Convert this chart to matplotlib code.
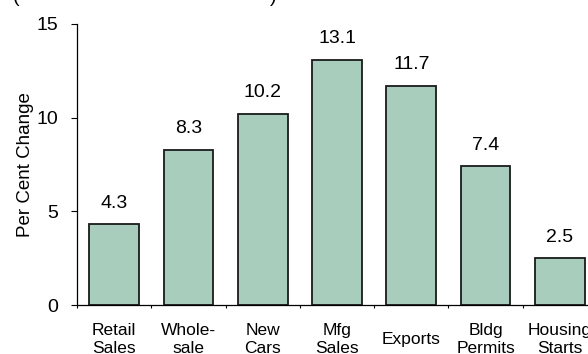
import matplotlib
matplotlib.use("Agg")
import matplotlib.pyplot as plt
import numpy as np

# Data
categories = ["Retail\nSales", "Whole-\nsale", "New\nCars", "Mfg\nSales",
              "Exports", "Bldg\nPermits", "Housing\nStarts"]
values = [4.3, 8.3, 10.2, 13.1, 11.7, 7.4, 2.5]
y_ticks = [0, 5, 10, 15]

plt.rcParams['font.family'] = ['Liberation Sans', 'DejaVu Sans']

W, H = 588, 354
fig = plt.figure(figsize=(W / 100, H / 100), dpi=100)

# axes extends a little past the right edge, as in the reference
left, right, top, bottom = 77, 597, 24, 305
ax = fig.add_axes([left / W, 1 - bottom / H, (right - left) / W, (bottom - top) / H])

x = np.arange(len(categories))
ax.bar(x, values, width=0.67, color="#A9CDBC", edgecolor="#1a1a1a", linewidth=1.3)

for xi, v in zip(x, values):
    ax.annotate(f"{v:.1f}", (xi, v), xytext=(0, 9), textcoords="offset points",
                ha="center", va="bottom", fontsize=14)

ax.set_xlim(-0.5, len(categories) - 0.5)
ax.set_ylim(0, 15)
ax.set_yticks(y_ticks)
ax.tick_params(axis="y", labelsize=14, length=4.5, width=0.8, pad=9)

ax.set_xticks(x, categories)
ax.set_xticks(np.arange(len(categories) + 1) - 0.5, minor=True)
ax.tick_params(axis="x", which="major", length=0, labelsize=12.5, pad=24.5)
ax.tick_params(axis="x", which="minor", length=2.5, width=0.8)
for lbl in ax.get_xticklabels():
    lbl.set_va("center")
    lbl.set_linespacing(1.25)

ax.set_ylabel("Per Cent Change", fontsize=13.5, labelpad=2)

for s in ["top", "right"]:
    ax.spines[s].set_visible(False)
for s in ["left", "bottom"]:
    ax.spines[s].set_linewidth(0.9)

# title cut off at the top edge of the image
fig.text(13 / W, 1 - 2 / H, "(", fontsize=14, va="baseline")
fig.text(270 / W, 1 - 2 / H, ")", fontsize=14, va="baseline")

fig.savefig("out.png", dpi=100)
